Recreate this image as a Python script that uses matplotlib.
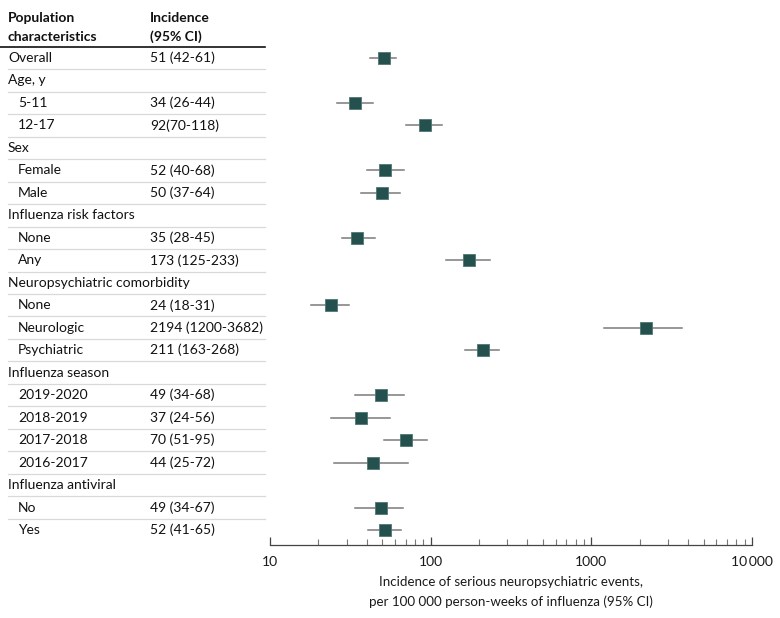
import numpy as np
import matplotlib.pyplot as plt
import matplotlib.transforms as mtransforms
from matplotlib.ticker import FixedLocator, NullFormatter

plt.rcParams['font.family'] = ['Lato', 'DejaVu Sans']

# rows of the table: label, indent flag, incidence text
labels = ["Overall", "Age, y", "5-11", "12-17", "Sex", "Female", "Male",
          "Influenza risk factors", "None", "Any",
          "Neuropsychiatric comorbidity", "None", "Neurologic", "Psychiatric",
          "Influenza season", "2019-2020", "2018-2019", "2017-2018", "2016-2017",
          "Influenza antiviral", "No", "Yes"]
indent = [0, 0, 1, 1, 0, 1, 1, 0, 1, 1, 0, 1, 1, 1, 0, 1, 1, 1, 1, 0, 1, 1]
est = [51, None, 34, 92, None, 52, 50, None, 35, 173, None, 24, 2194, 211,
       None, 49, 37, 70, 44, None, 49, 52]
lo = [42, None, 26, 70, None, 40, 37, None, 28, 125, None, 18, 1200, 163,
      None, 34, 24, 51, 25, None, 34, 41]
hi = [61, None, 44, 118, None, 68, 64, None, 45, 233, None, 31, 3682, 268,
      None, 68, 56, 95, 72, None, 67, 65]
ci_text = ["51 (42-61)", "", "34 (26-44)", "92(70-118)", "", "52 (40-68)",
           "50 (37-64)", "", "35 (28-45)", "173 (125-233)", "", "24 (18-31)",
           "2194 (1200-3682)", "211 (163-268)", "", "49 (34-68)", "37 (24-56)",
           "70 (51-95)", "44 (25-72)", "", "49 (34-67)", "52 (41-65)"]
xticks = [10, 100, 1000, 10000]
xtick_labels = ["10", "100", "1000", "10\u2009000"]

W, H = 780, 618
fig = plt.figure(figsize=(W / 100, H / 100), dpi=100)

# forest axes, pixel layout from the reference
ax = fig.add_axes([270 / W, (H - 545) / H, 482 / W, (545 - 46) / H])
n = len(labels)
ax.set_ylim(n - 1 + 0.667, -0.534)
ax.set_xscale('log')
ax.set_xlim(10, 10000)

marker_col = '#24514e'
for i in range(n):
    if est[i] is None:
        continue
    ax.plot([lo[i], hi[i]], [i, i], color='#7a7a7a', lw=1.1, zorder=2)
    ax.plot(est[i], i, marker='s', ms=8, color=marker_col,
            mec='#4f7673', mew=0.6, zorder=3)

for s in ['top', 'left', 'right']:
    ax.spines[s].set_visible(False)
ax.spines['bottom'].set_color('#444444')
ax.spines['bottom'].set_linewidth(0.9)
ax.set_yticks([])
ax.xaxis.set_major_locator(FixedLocator(xticks))
ax.set_xticklabels(xtick_labels)
minor = [m * 10 ** e for e in range(1, 4) for m in range(2, 10)]
ax.xaxis.set_minor_locator(FixedLocator(minor))
ax.xaxis.set_minor_formatter(NullFormatter())
ax.tick_params(axis='x', which='major', direction='in', length=6,
               width=0.9, color='#444444', labelsize=10, pad=8,
               labelcolor='#1a1a1a')
ax.tick_params(axis='x', which='minor', direction='in', length=4,
               width=0.8, color='#777777')
ax.set_xlabel("Incidence of serious neuropsychiatric events,\n"
              "per 100 000 person-weeks of influenza (95% CI)",
              fontsize=9.6, labelpad=6, linespacing=1.7, color='#1a1a1a')

# table on the left, y in data coords of the forest axes
trans = mtransforms.blended_transform_factory(fig.transFigure, ax.transData)
for i in range(n):
    x0 = 8 if indent[i] == 0 else 18
    fig.text(x0 / W, i, labels[i], transform=trans, fontsize=10,
             va='center', ha='left', color='#111111')
    if ci_text[i]:
        fig.text(150 / W, i, ci_text[i], transform=trans, fontsize=10,
                 va='center', ha='left', color='#111111')
    if i < n - 1:
        fig.add_artist(plt.Line2D([8 / W, 265 / W], [i + 0.5, i + 0.5],
                                  transform=trans, color='#d9d9d9', lw=0.9))

# header
fig.text(8 / W, (H - 18) / H, "Population", fontsize=10, fontweight='bold',
         va='center', ha='left', color='#111111')
fig.text(8 / W, (H - 37) / H, "characteristics", fontsize=10, fontweight='bold',
         va='center', ha='left', color='#111111')
fig.text(150 / W, (H - 18) / H, "Incidence", fontsize=10, fontweight='bold',
         va='center', ha='left', color='#111111')
fig.text(150 / W, (H - 37) / H, "(95% CI)", fontsize=10, fontweight='bold',
         va='center', ha='left', color='#111111')
fig.add_artist(plt.Line2D([0, 265 / W], [(H - 46.5) / H, (H - 46.5) / H],
                          transform=fig.transFigure, color='#111111', lw=1.2))

fig.savefig('out.png', dpi=100)
